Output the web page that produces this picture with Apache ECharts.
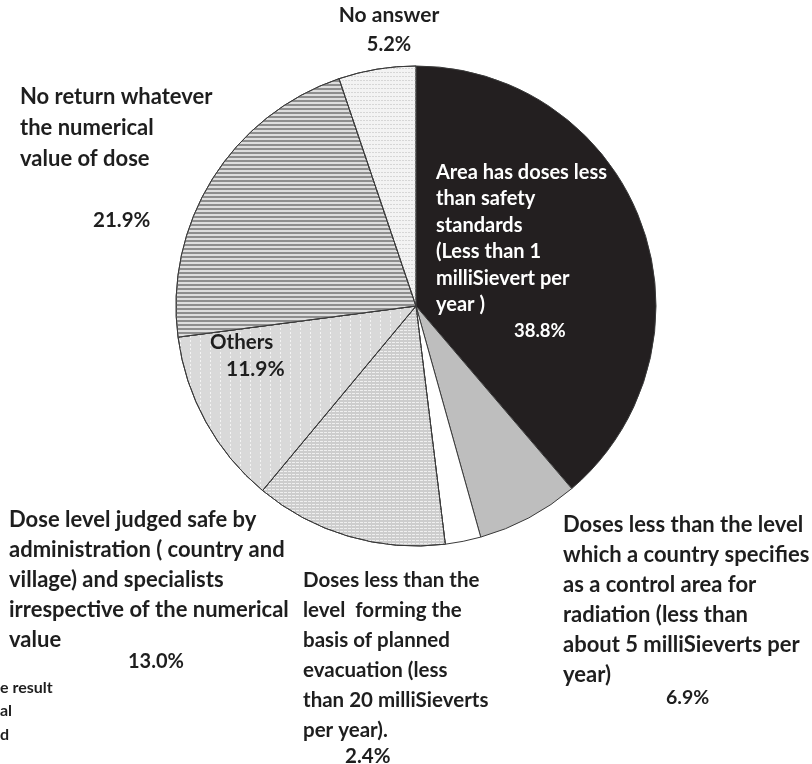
<!DOCTYPE html>
<html>
<head>
<meta charset="utf-8">
<script src="https://cdn.jsdelivr.net/npm/echarts@6/dist/echarts.min.js"></script>
<style>
  html, body { margin: 0; padding: 0; background: #ffffff; }
  #chart { width: 812px; height: 764px; }
</style>
</head>
<body>
<div id="chart"></div>
<script>
// Survey answers, clockwise from 12 o'clock
const categories = [
  'Area has doses less\nthan safety\nstandards\n(Less than 1\nmilliSievert per\nyear )',
  'Doses less than the level\nwhich a country specifies\nas a control area for\nradiation (less than\nabout 5 milliSieverts per\nyear)',
  'Doses less than the\nlevel  forming the\nbasis of planned\nevacuation (less\nthan 20 milliSieverts\nper year).',
  'Dose level judged safe by\nadministration ( country and\nvillage) and specialists\nirrespective of the numerical\nvalue',
  'Others',
  'No return whatever\nthe numerical\nvalue of dose',
  'No answer'
];
const shares = [38.8, 6.9, 2.4, 13.0, 11.9, 21.9, 5.2];

// Fill for each slice: base colour plus an optional line/dot texture
const sliceStyles = [
  { color: '#231f20' },
  { color: '#bebebe' },
  { color: '#ffffff' },
  { color: '#cdcdcd', decal: { symbol: 'rect', symbolSize: 1, dashArrayX: [[3, 1]], dashArrayY: [1, 2], color: 'rgba(245,245,245,0.85)' } },
  { color: '#d9d9d9', decal: { symbol: 'rect', symbolSize: 1, dashArrayX: [1, 9], dashArrayY: [2, 2], color: '#f4f4f4' } },
  { color: '#dedede', decal: { symbol: 'rect', symbolSize: 1, dashArrayX: [[1, 0]], dashArrayY: [2, 2], color: '#8e8e8e' } },
  { color: '#f3f3f3', decal: { symbol: 'rect', symbolSize: 1, dashArrayX: [[2, 1]], dashArrayY: [1, 3], color: '#d6d6d6' } }
];

// Where each label block sits (top edge), font sizes, line spacing and value indent
const labelPlaces = [
  { x: 436, y: 159, align: 'left',   fs: 20,   vfs: 18.5, lh: 26.5, vlh: 26.5, indent: 78,  color: '#ffffff' },
  { x: 563, y: 510, align: 'left',   fs: 22,   vfs: 19.5, lh: 30,   vlh: 16,   indent: 103, color: '#1e1e1e' },
  { x: 303, y: 565, align: 'left',   fs: 20.5, vfs: 20.5, lh: 30,   vlh: 22,   indent: 42,  color: '#1e1e1e' },
  { x: 9,   y: 505, align: 'left',   fs: 22,   vfs: 20,   lh: 30,   vlh: 14,   indent: 119, color: '#1e1e1e' },
  { x: 210, y: 327, align: 'left',   fs: 20.5, vfs: 21,   lh: 30,   vlh: 24,   indent: 16,  color: '#1e1e1e' },
  { x: 20,  y: 81,  align: 'left',   fs: 22,   vfs: 20.5, lh: 31,   vlh: 92,   indent: 73,  color: '#1e1e1e' },
  { x: 389, y: 0,   align: 'center', fs: 21,   vfs: 20,   lh: 30,   vlh: 30,   indent: 0,   color: '#1e1e1e' }
];

const FONT = 'Lato, "Open Sans", sans-serif';

const pieData = categories.map(function (name, i) {
  const p = labelPlaces[i];
  return {
    name: name,
    value: shares[i],
    itemStyle: sliceStyles[i],
    label: {
      color: p.color,
      align: p.align,
      rich: {
        n: { fontFamily: FONT, fontWeight: 'bold', fontSize: p.fs, lineHeight: p.lh, color: p.color, align: p.align },
        v: { fontFamily: FONT, fontWeight: 'bold', fontSize: p.vfs, lineHeight: p.vlh, color: p.color, align: p.align,
             padding: [0, 0, 0, p.indent] }
      }
    }
  };
});

const chart = echarts.init(document.getElementById('chart'), null, { renderer: 'canvas' });

chart.setOption({
  backgroundColor: '#ffffff',
  animation: false,
  series: [{
    type: 'pie',
    center: [416, 306],
    radius: [0, 240],
    startAngle: 90,
    clockwise: true,
    avoidLabelOverlap: false,
    itemStyle: { borderColor: '#3a3a3a', borderWidth: 1 },
    label: {
      show: true,
      position: 'inside',
      overflow: 'none',
      formatter: function (params) {
        const lines = params.name.split('\n').map(function (s) { return '{n|' + s + '}'; });
        lines.push('{v|' + params.value.toFixed(1) + '%}');
        return lines.join('\n');
      }
    },
    labelLine: { show: false },
    labelLayout: function (params) {
      const p = labelPlaces[params.dataIndex];
      return { x: p.x, y: p.y, align: p.align, verticalAlign: 'top', hideOverlap: false };
    },
    emphasis: { disabled: true },
    data: pieData
  }],
  graphic: [{
    type: 'text',
    left: 0,
    top: 676,
    style: {
      text: 'e result\nal\nd',
      fontFamily: FONT,
      fontWeight: 'bold',
      fontSize: 16,
      lineHeight: 23.5,
      fill: '#1e1e1e'
    }
  }]
});
</script>
</body>
</html>
